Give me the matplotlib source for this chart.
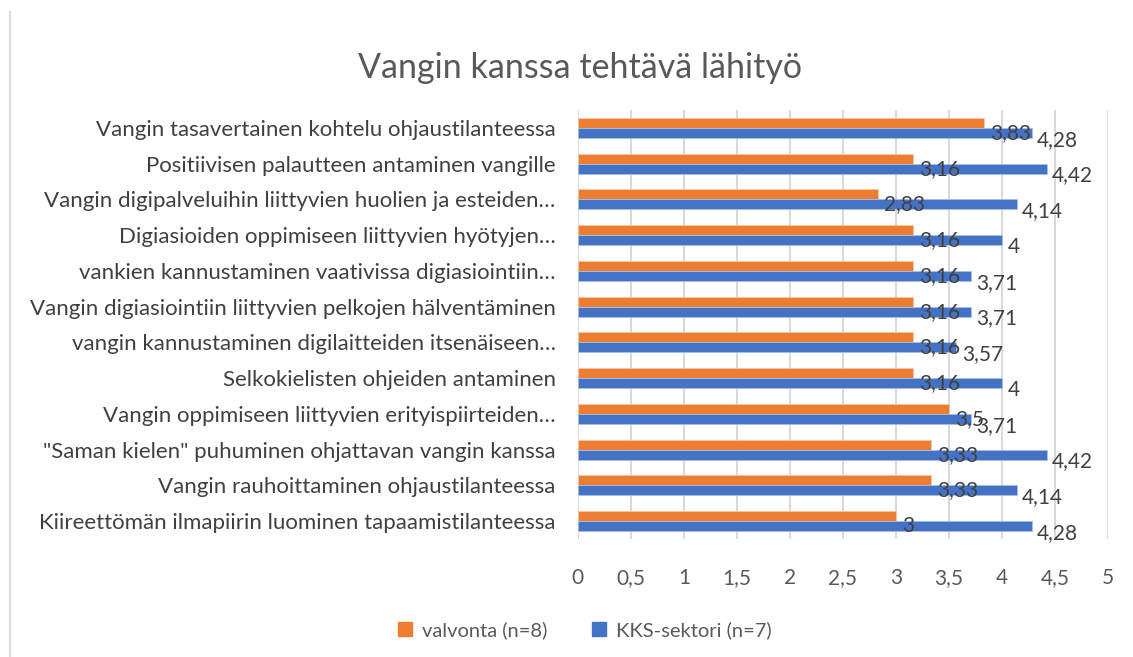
import matplotlib
matplotlib.use("Agg")
import matplotlib.pyplot as plt
from matplotlib.lines import Line2D
from matplotlib.patches import Patch

categories = [
    "Vangin tasavertainen kohtelu ohjaustilanteessa",
    "Positiivisen palautteen antaminen vangille",
    "Vangin digipalveluihin liittyvien huolien ja esteiden…",
    "Digiasioiden oppimiseen liittyvien hyötyjen…",
    "vankien kannustaminen vaativissa digiasiointiin…",
    "Vangin digiasiointiin liittyvien pelkojen hälventäminen",
    "vangin kannustaminen digilaitteiden itsenäiseen…",
    "Selkokielisten ohjeiden antaminen",
    "Vangin oppimiseen liittyvien erityispiirteiden…",
    "\"Saman kielen\" puhuminen ohjattavan vangin kanssa",
    "Vangin rauhoittaminen ohjaustilanteessa",
    "Kiireettömän ilmapiirin luominen tapaamistilanteessa",
]
valvonta = [3.83, 3.16, 2.83, 3.16, 3.16, 3.16, 3.16, 3.16, 3.5, 3.33, 3.33, 3.0]
kks = [4.28, 4.42, 4.14, 4.0, 3.71, 3.71, 3.57, 4.0, 3.71, 4.42, 4.14, 4.28]
series_names = ["valvonta (n=8)", "KKS-sektori (n=7)"]
xticks = [0, 0.5, 1, 1.5, 2, 2.5, 3, 3.5, 4, 4.5, 5]

ORANGE = "#ED7D31"
BLUE = "#4472C4"
FONT = ["Lato", "DejaVu Sans"]
plt.rcParams["font.family"] = FONT

def fmt(v):
    s = ("%.2f" % v).rstrip("0").rstrip(".")
    return s.replace(".", ",")

fig = plt.figure(figsize=(11.33, 6.57), dpi=100)
ax = fig.add_axes([0.510, 0.1796, 0.468, 0.6530])

h = 0.28
ys = list(range(len(categories)))
ax.barh([y - h / 2 for y in ys], valvonta, height=h, color=ORANGE,
        edgecolor="#f5c7a8", linewidth=0.6, zorder=3)
ax.barh([y + h / 2 for y in ys], kks, height=h, color=BLUE,
        edgecolor="#a9bfe6", linewidth=0.6, zorder=3)

for y, v in zip(ys, valvonta):
    ax.annotate(fmt(v), xy=(v, y - h / 2), xytext=(4.6, -7.2),
                textcoords="offset points", ha="left", va="center",
                fontsize=15, color="#404040", zorder=4)
for y, v in zip(ys, kks):
    ax.annotate(fmt(v), xy=(v, y + h / 2), xytext=(3.8, -5.0),
                textcoords="offset points", ha="left", va="center",
                fontsize=15, color="#404040", zorder=4)

ax.set_xlim(0, 5)
ax.set_ylim(len(categories) - 0.5, -0.5)
ax.set_xticks(xticks)
ax.set_xticklabels([fmt(t) for t in xticks])
ax.set_yticks(ys)
ax.set_yticklabels(categories)
ax.tick_params(axis="x", length=0, pad=21, labelsize=15, labelcolor="#595959")
ax.tick_params(axis="y", length=0, pad=16, labelsize=16, labelcolor="#404040")
ax.grid(axis="x", color="#d9d9d9", linewidth=1.5, zorder=0)
for s in ax.spines.values():
    s.set_visible(False)

fig.text(0.512, 0.896, "Vangin kanssa tehtävä lähityö", ha="center", va="center",
         fontsize=24.5, color="#595959")

handles = [Patch(facecolor=ORANGE, edgecolor=ORANGE),
           Patch(facecolor=BLUE, edgecolor=BLUE)]
fig.legend(handles, series_names, loc="center", bbox_to_anchor=(0.516, 0.041),
           ncol=2, frameon=False, fontsize=14.5, handlelength=0.7, handleheight=0.7,
           columnspacing=2.2, handletextpad=0.5, labelcolor="#595959")

fig.add_artist(Line2D([10.5 / 1133, 10.5 / 1133], [0, 1 - 12 / 657],
                      transform=fig.transFigure, color="#d9d9d9", linewidth=1.5))

fig.savefig("out.png", dpi=100, facecolor="white")
